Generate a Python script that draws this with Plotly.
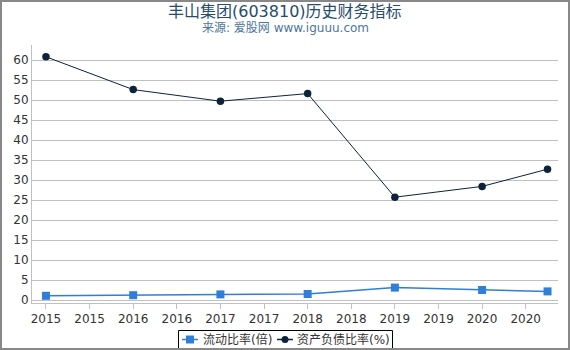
import plotly.graph_objects as go

x_vals = [2015, 2016, 2017, 2018, 2019, 2020, 2020.75]
current_ratio = [1.05, 1.2, 1.4, 1.5, 3.1, 2.5, 2.15]
debt_ratio = [60.8, 52.6, 49.7, 51.6, 25.7, 28.4, 32.7]
tick_vals = [2015, 2015.5, 2016, 2016.5, 2017, 2017.5, 2018, 2018.5, 2019, 2019.5, 2020, 2020.5]
tick_text = ["2015", "2015", "2016", "2016", "2017", "2017", "2018", "2018", "2019", "2019", "2020", "2020"]
y_ticks = list(range(0, 61, 5))
series_names = ["流动比率(倍)", "资产负债比率(%)"]
series_colors = ["#2f7ed8", "#0d233a"]

W, H = 570, 350
L, R, T, B = 32, 12, 45, 47
pw, ph = W - L - R, H - T - B

def px(xp):
    return (xp - L) / pw

def py(yp):
    return (H - B - yp) / ph

FONT = "DejaVu Sans, Noto Sans CJK SC, sans-serif"

fig = go.Figure()
fig.add_trace(go.Scatter(
    x=x_vals, y=current_ratio, name=series_names[0], mode="lines+markers",
    line=dict(color=series_colors[0], width=1.5),
    marker=dict(symbol="square", size=8, color=series_colors[0]),
))
fig.add_trace(go.Scatter(
    x=x_vals, y=debt_ratio, name=series_names[1], mode="lines+markers",
    line=dict(color=series_colors[1], width=1),
    marker=dict(symbol="circle", size=7.5, color=series_colors[1]),
))

# custom compact legend (Highcharts style)
ly = 339.5
shapes = [
    dict(type="rect", xref="paper", yref="paper",
         x0=px(178.5), x1=px(392.5), y0=py(349), y1=py(330.5),
         line=dict(color="#000000", width=1), fillcolor="white", layer="above"),
    dict(type="line", xref="paper", yref="paper",
         x0=px(182), x1=px(198), y0=py(ly), y1=py(ly),
         line=dict(color=series_colors[0], width=1.5), layer="above"),
    dict(type="rect", xref="paper", yref="paper",
         x0=px(186), x1=px(194), y0=py(ly + 4), y1=py(ly - 4),
         line=dict(width=0), fillcolor=series_colors[0], layer="above"),
    dict(type="line", xref="paper", yref="paper",
         x0=px(277), x1=px(293), y0=py(ly), y1=py(ly),
         line=dict(color=series_colors[1], width=1.5), layer="above"),
    dict(type="circle", xref="paper", yref="paper",
         x0=px(281.5), x1=px(288.5), y0=py(ly + 3.5), y1=py(ly - 3.5),
         line=dict(width=0), fillcolor=series_colors[1], layer="above"),
    dict(type="rect", xref="paper", yref="paper",
         x0=px(1), x1=px(569), y0=py(349), y1=py(1),
         line=dict(color="#888888", width=2), fillcolor="rgba(0,0,0,0)", layer="above"),
]

annotations = [
    dict(text="丰山集团(603810)历史财务指标", x=px(285), y=py(11), xref="paper", yref="paper",
         xanchor="center", yanchor="middle", showarrow=False,
         font=dict(size=16, color="#274b6d", family=FONT)),
    dict(text="来源: 爱股网 www.iguuu.com", x=px(285), y=py(28), xref="paper", yref="paper",
         xanchor="center", yanchor="middle", showarrow=False,
         font=dict(size=12, color="#4d759e", family=FONT)),
    dict(text=series_names[0], x=px(201), y=py(ly), xref="paper", yref="paper",
         xanchor="left", yanchor="middle", showarrow=False,
         font=dict(size=12, color="#333333", family=FONT)),
    dict(text=series_names[1], x=px(295), y=py(ly), xref="paper", yref="paper",
         xanchor="left", yanchor="middle", showarrow=False,
         font=dict(size=12, color="#333333", family=FONT)),
]

fig.update_layout(
    width=W, height=H,
    margin=dict(l=L, r=R, t=T, b=B, autoexpand=False),
    paper_bgcolor="white", plot_bgcolor="white",
    font=dict(family=FONT, size=12, color="#333333"),
    showlegend=False,
    xaxis=dict(
        range=[2014.84, 2020.87], tickmode="array", tickvals=tick_vals, ticktext=tick_text,
        showgrid=False, zeroline=False, showline=True, linecolor="#c0c0c0", linewidth=1,
        ticks="outside", ticklen=5, tickcolor="#c0c0c0", tickfont=dict(size=12, color="#333333"),
        automargin=False,
    ),
    yaxis=dict(
        range=[-0.75, 63.75], tickmode="array", tickvals=y_ticks,
        showgrid=True, gridcolor="#c0c0c0", gridwidth=1, zeroline=False,
        showline=True, linecolor="#c0c0c0", linewidth=1, ticks="",
        tickfont=dict(size=12, color="#333333"), automargin=False,
    ),
    annotations=annotations,
    shapes=shapes,
)

fig.write_html("out.html")
